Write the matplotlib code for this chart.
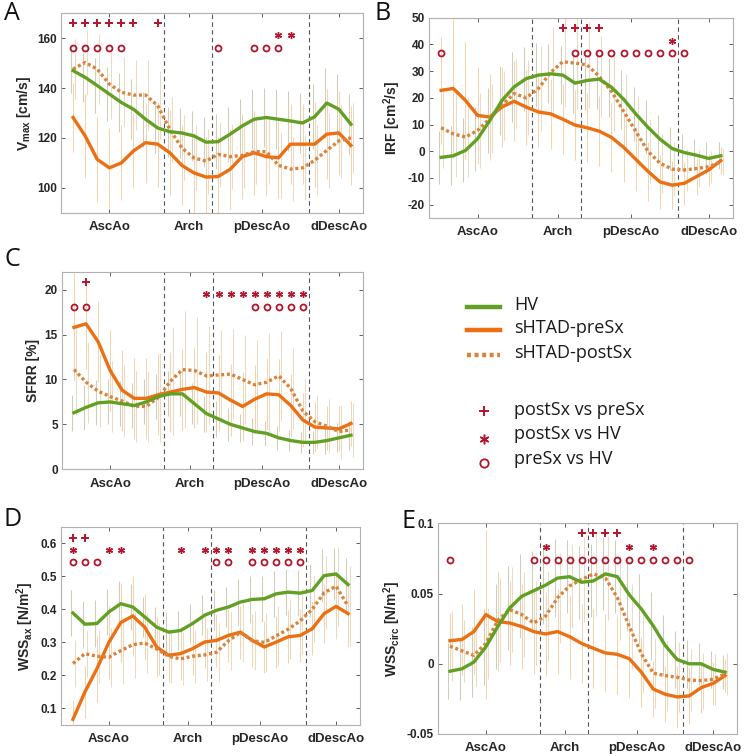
import numpy as np
import matplotlib.pyplot as plt

plt.rcParams['font.family'] = 'Liberation Sans'
plt.rcParams['axes.unicode_minus'] = False
plt.rcParams['mathtext.fontset'] = 'custom'
plt.rcParams['mathtext.rm'] = 'Liberation Sans:bold'
plt.rcParams['mathtext.it'] = 'Liberation Sans:bold'
plt.rcParams['mathtext.bf'] = 'Liberation Sans:bold'

# positions along the aorta and region labels
loc = np.arange(1, 25)
regions = ['AscAo', 'Arch', 'pDescAo', 'dDescAo']
region_ticks = [4, 10.6, 16.6, 23]
region_bounds = [8.5, 12.5, 20.5]

# A: Vmax [cm/s]
A_hv = [147, 144.3, 141, 137.6, 134.2, 131.5, 127.5, 124, 122.5, 122, 120.8, 118.3,
        118.5, 121.5, 124.8, 127.5, 128.2, 127.5, 126.8, 126, 128.5, 134, 131.5, 125.5]
A_pre = [128.2, 120.8, 111.4, 108, 110, 114.8, 118.1, 117.5, 114.1, 109, 106, 104.3,
         104.5, 107.4, 112.5, 114, 112.5, 112, 117.5, 117.5, 117.5, 121.5, 122, 117]
A_post = [147.6, 150.3, 147.6, 141.6, 138.3, 137.2, 137.2, 133, 123.5, 116, 112, 110.7,
          113.4, 112.5, 113, 114.5, 114.5, 109, 107.5, 108, 111, 115, 118.8, 120]
A_sd_hv = [9, 10, 11, 11, 12, 12, 11, 10, 10, 10, 10, 10, 11, 11, 11, 12, 12, 12, 12, 12, 13, 14, 14, 12]
A_sd_pre = [14, 17, 17, 16, 15, 15, 16, 17, 17, 16, 16, 16, 16, 16, 17, 17, 16, 16, 16, 16, 17, 18, 17, 16]
A_sd_post = [12, 13, 14, 14, 14, 14, 14, 14, 13, 13, 13, 13, 13, 13, 13, 13, 13, 13, 13, 13, 14, 15, 15, 14]
A_plus = [1, 2, 3, 4, 5, 6, 8]
A_star = [18, 19]
A_circ = [1, 2, 3, 4, 5, 13, 16, 17, 18]

# B: IRF [cm2/s]
B_hv = [-2.3, -1.7, 0.3, 4.7, 11.5, 19, 24.1, 27.2, 28.5, 29, 28.5, 25.5,
        26.5, 27, 24, 19.5, 14, 9, 4.5, 1, -0.5, -1.5, -2.7, -1.7]
B_pre = [22.8, 23.5, 19, 13.4, 12.8, 16.6, 18.7, 16.5, 14.7, 14, 12, 9.8,
         8.8, 7.5, 5.2, 1.5, -3, -7.5, -11.5, -12.7, -12, -9.5, -7, -3.5]
B_post = [8.8, 6.5, 5.3, 7.8, 12.2, 17.2, 21.6, 20, 23.5, 29.5, 33.5, 33,
          32.3, 28, 22.5, 15, 7.5, 0, -4.5, -6.7, -7, -6.5, -5.8, -4]
B_sd_hv = [10, 11, 12, 12, 12, 13, 13, 12, 12, 11, 11, 11, 11, 11, 11, 11, 10, 10, 9, 8, 7, 6, 6, 5]
B_sd_pre = [20, 26, 22, 18, 16, 15, 15, 14, 13, 13, 13, 13, 13, 13, 13, 13, 12, 11, 10, 9, 8, 7, 6, 5]
B_sd_post = [15, 16, 15, 14, 13, 13, 13, 14, 16, 17, 17, 17, 16, 15, 15, 14, 13, 12, 11, 10, 8, 7, 6, 5]
B_plus = [11, 12, 13, 14]
B_star = [20]
B_circ = [1, 12, 13, 14, 15, 16, 17, 18, 19, 20, 21]

# C: SFRR [%]
C_hv = [6.3, 6.9, 7.4, 7.5, 7.3, 7.1, 7.5, 8.1, 8.4, 8.4, 7.3, 6.2,
        5.6, 5.0, 4.6, 4.2, 4.0, 3.5, 3.2, 3.0, 3.0, 3.2, 3.5, 3.8]
C_pre = [15.8, 16.2, 14.2, 11, 8.8, 7.9, 7.9, 8.3, 8.6, 8.9, 9.1, 8.6,
         8.5, 7.7, 7.0, 7.8, 8.4, 8.3, 7.1, 5.5, 4.7, 4.6, 4.5, 5.1]
C_post = [11.1, 9.7, 8.7, 8.1, 7.6, 7.0, 7.0, 8.0, 9.8, 11.1, 11.0, 10.4,
          10.5, 10.6, 10.0, 9.4, 9.7, 10.4, 9.0, 6.5, 5.3, 4.8, 4.2, 4.4]
C_sd_hv = [2.0, 2.5, 2.5, 2.5, 2.5, 2.5, 2.5, 2.5, 2.5, 2.5, 2.3, 2.0, 2.0, 1.8, 1.6, 1.5, 1.4, 1.3, 1.2, 1.2, 1.3, 1.5, 1.6, 1.6]
C_sd_pre = [6, 5, 4.5, 4.5, 4.5, 4.5, 4.5, 4.5, 4.5, 4.5, 4.5, 4.5, 4.2, 4.0, 3.8, 3.8, 4, 4, 3.5, 3, 2.8, 2.5, 2.5, 2.5]
C_sd_post = [5, 4.5, 4, 4, 4, 4, 4, 5, 6, 6.5, 6, 5.5, 5, 5, 5, 5, 5.5, 5, 4.5, 3.5, 3, 3, 3, 3]
C_plus = [2]
C_star = [12, 13, 14, 15, 16, 17, 18, 19, 20]
C_circ = [1, 2, 16, 17, 18, 19, 20]

# D: WSSax [N/m2]
D_hv = [0.389, 0.355, 0.357, 0.392, 0.417, 0.407, 0.377, 0.346, 0.331, 0.336, 0.357, 0.382,
        0.397, 0.407, 0.422, 0.43, 0.432, 0.447, 0.452, 0.449, 0.457, 0.502, 0.507, 0.475]
D_pre = [0.067, 0.15, 0.22, 0.30, 0.36, 0.38, 0.346, 0.286, 0.261, 0.266, 0.281, 0.301,
         0.306, 0.321, 0.331, 0.306, 0.286, 0.301, 0.317, 0.321, 0.341, 0.387, 0.409, 0.387]
D_post = [0.236, 0.266, 0.258, 0.255, 0.275, 0.293, 0.298, 0.28, 0.258, 0.25, 0.258, 0.262,
          0.27, 0.305, 0.33, 0.305, 0.3, 0.32, 0.34, 0.365, 0.40, 0.45, 0.47, 0.41]
D_sd_hv = [0.07, 0.07, 0.07, 0.07, 0.07, 0.07, 0.06, 0.06, 0.06, 0.06, 0.06, 0.06, 0.06, 0.06, 0.07, 0.07, 0.07, 0.07, 0.07, 0.07, 0.08, 0.08, 0.08, 0.08]
D_sd_pre = [0.06, 0.08, 0.1, 0.11, 0.12, 0.12, 0.1, 0.09, 0.08, 0.08, 0.08, 0.08, 0.08, 0.08, 0.08, 0.08, 0.08, 0.08, 0.08, 0.08, 0.08, 0.09, 0.1, 0.1]
D_sd_post = [0.07, 0.07, 0.08, 0.09, 0.1, 0.1, 0.09, 0.08, 0.08, 0.08, 0.08, 0.08, 0.09, 0.09, 0.09, 0.09, 0.09, 0.09, 0.09, 0.1, 0.1, 0.11, 0.12, 0.12]
D_plus = [1, 2]
D_star = [1, 4, 5, 10, 12, 13, 14, 16, 17, 18, 19, 20]
D_circ = [1, 2, 3, 13, 14, 16, 17, 18, 19, 20]

# E: WSScirc [N/m2]
E_hv = [-0.0053, -0.0036, 0.0012, 0.012, 0.0265, 0.0398, 0.048, 0.052, 0.056, 0.061, 0.062, 0.058,
        0.059, 0.064, 0.062, 0.049, 0.039, 0.027, 0.013, 0.003, 0.0, 0.0, -0.004, -0.006]
E_pre = [0.0164, 0.0173, 0.0229, 0.035, 0.030, 0.029, 0.0265, 0.0229, 0.0212, 0.0229, 0.0193, 0.0145,
         0.011, 0.0077, 0.0067, 0.0036, -0.006, -0.018, -0.0217, -0.0236, -0.0229, -0.017, -0.014, -0.0084]
E_post = [0.0125, 0.0092, 0.006, 0.0145, 0.031, 0.0386, 0.035, 0.029, 0.034, 0.047, 0.0554, 0.060,
          0.064, 0.061, 0.047, 0.0265, 0.0072, -0.0067, -0.0084, -0.0096, -0.0116, -0.012, -0.011, -0.0072]
E_sd_hv = [0.02, 0.022, 0.025, 0.027, 0.03, 0.03, 0.03, 0.028, 0.028, 0.028, 0.026, 0.026, 0.026, 0.026, 0.026, 0.026, 0.025, 0.024, 0.022, 0.02, 0.017, 0.015, 0.013, 0.012]
E_sd_pre = [0.02, 0.025, 0.03, 0.06, 0.035, 0.03, 0.03, 0.03, 0.03, 0.03, 0.03, 0.028, 0.028, 0.028, 0.028, 0.028, 0.025, 0.02, 0.02, 0.022, 0.02, 0.018, 0.015, 0.012]
E_sd_post = [0.025, 0.022, 0.022, 0.025, 0.03, 0.03, 0.03, 0.03, 0.032, 0.032, 0.03, 0.03, 0.03, 0.03, 0.03, 0.03, 0.028, 0.025, 0.025, 0.025, 0.022, 0.02, 0.018, 0.015]
E_plus = [12, 13, 14, 15]
E_star = [9, 16, 18]
E_circ = [1, 8, 9, 10, 11, 12, 13, 14, 15, 16, 17, 18, 19, 20, 21]

c_hv = '#62a024'
c_pre = '#ec6f12'
c_post = '#d9833c'
c_sig = '#b3162c'
eb_cols = ['#b0aa8c', '#f2b478', '#dfc3a0']
asterisk = (6, 2, 0)

W, H = 748, 756
fig = plt.figure(figsize=(W / 100, H / 100), dpi=100)


def add_ax(l, t, r, b):
    return fig.add_axes([l / W, 1 - b / H, (r - l) / W, (b - t) / H])


def panel(ax, hv, pre, post, sds, ylim, yticks, ylabel, sig, rows):
    for off, sd, y, col in zip([-0.18, 0, 0.18], sds, [hv, pre, post], eb_cols):
        ax.errorbar(loc + off, y, yerr=sd, fmt='none', ecolor=col, elinewidth=0.75,
                    capsize=0, alpha=0.6, zorder=1)
    for xb in region_bounds:
        ax.axvline(xb, color='#555555', lw=0.8, ls=(0, (4, 3)), zorder=2)
    ax.plot(loc, hv, color=c_hv, lw=2.4, zorder=4)
    ax.plot(loc, pre, color=c_pre, lw=2.4, zorder=3)
    ax.plot(loc, post, color=c_post, lw=2.4, ls=(0, (0.9, 0.8)), zorder=3)
    for idx, yr, mk, ms, mew in zip(sig, rows, ['+', asterisk, 'o'], [5.5, 5, 4.3], [1.4, 1.0, 1.3]):
        if len(idx) == 0:
            continue
        ax.plot(idx, [yr] * len(idx), ls='none', marker=mk, ms=ms, mec=c_sig,
                mfc='none', mew=mew, zorder=5)
    ax.set_xlim(0, 25)
    ax.set_ylim(*ylim)
    ax.set_yticks(yticks)
    ax.set_yticklabels([f'{v:g}' for v in yticks])
    ax.set_xticks(region_ticks)
    ax.set_xticklabels(regions)
    ax.tick_params(direction='in', length=3, width=0.6, color='#444444',
                   top=True, right=True, labelcolor='#262626')
    ax.tick_params(axis='x', labelsize=9.5, pad=6)
    ax.tick_params(axis='y', labelsize=8.5, pad=3)
    for lab in ax.get_xticklabels() + ax.get_yticklabels():
        lab.set_fontweight('bold')
    for s in ax.spines.values():
        s.set_color('#b0b0b0')
        s.set_linewidth(0.8)
    ax.set_ylabel(ylabel, fontsize=10, fontweight='bold', color='#262626', labelpad=3)


axA = add_ax(61, 13.3, 363, 212.7)
panel(axA, A_hv, A_pre, A_post, [A_sd_hv, A_sd_pre, A_sd_post], (90, 170),
      [100, 120, 140, 160], 'V$_{max}$ [cm/s]', [A_plus, A_star, A_circ], [166.2, 161.3, 155.9])

axB = add_ax(429, 17.7, 733, 218)
panel(axB, B_hv, B_pre, B_post, [B_sd_hv, B_sd_pre, B_sd_post], (-25, 50),
      [-20, -10, 0, 10, 20, 30, 40, 50], 'IRF [cm$^2$/s]', [B_plus, B_star, B_circ], [46, 41.3, 36.6])

axC = add_ax(62, 271.7, 363, 469.3)
panel(axC, C_hv, C_pre, C_post, [C_sd_hv, C_sd_pre, C_sd_post], (0, 22),
      [0, 5, 10, 15, 20], 'SFRR [%]', [C_plus, C_star, C_circ], [20.8, 19.55, 18.1])

axD = add_ax(61, 526.7, 360, 725)
panel(axD, D_hv, D_pre, D_post, [D_sd_hv, D_sd_pre, D_sd_post], (0.05, 0.65),
      [0.1, 0.2, 0.3, 0.4, 0.5, 0.6], 'WSS$_{ax}$ [N/m$^2$]', [D_plus, D_star, D_circ], [0.616, 0.58, 0.543])

axE = add_ax(438, 523.3, 737, 734)
panel(axE, E_hv, E_pre, E_post, [E_sd_hv, E_sd_pre, E_sd_post], (-0.05, 0.1),
      [-0.05, 0, 0.05, 0.1], 'WSS$_{circ}$ [N/m$^2$]', [E_plus, E_star, E_circ], [0.0928, 0.0832, 0.0736])

# panel letters and legend, placed in pixel coordinates
lax = fig.add_axes([0, 0, 1, 1], zorder=10)
lax.set_xlim(0, W)
lax.set_ylim(H, 0)
lax.axis('off')
lax.patch.set_alpha(0)
for letter, x, y in [('A', 4, 13), ('B', 375, 13), ('C', 4, 259), ('D', 4, 520), ('E', 402, 521)]:
    lax.text(x, y, letter, fontsize=18, family='Open Sans', va='center', ha='left', color='#111111')

legend_lines = [('HV', c_hv, '-'), ('sHTAD-preSx', c_pre, '-'), ('sHTAD-postSx', c_post, (0, (0.9, 0.8)))]
for (lab, col, ls), y in zip(legend_lines, [306.7, 330, 355]):
    lax.plot([467, 500], [y, y], color=col, lw=3.2, ls=ls)
    lax.text(514, y - 2, lab, fontsize=13, family='Open Sans', va='center', ha='left', color='#1a1a1a')

legend_marks = [('postSx vs preSx', '+', 7.5, 1.4), ('postSx vs HV', asterisk, 7, 1.1),
                ('preSx vs HV', 'o', 6, 1.3)]
for (lab, mk, ms, mew), y, yt in zip(legend_marks, [411, 439, 462.7], [411, 435, 460]):
    lax.plot([484], [y], marker=mk, ms=ms, mec=c_sig, mfc='none', mew=mew, ls='none')
    lax.text(514, yt - 1, lab, fontsize=13, family='Open Sans', va='center', ha='left', color='#1a1a1a')

fig.savefig('out.png', dpi=100)
